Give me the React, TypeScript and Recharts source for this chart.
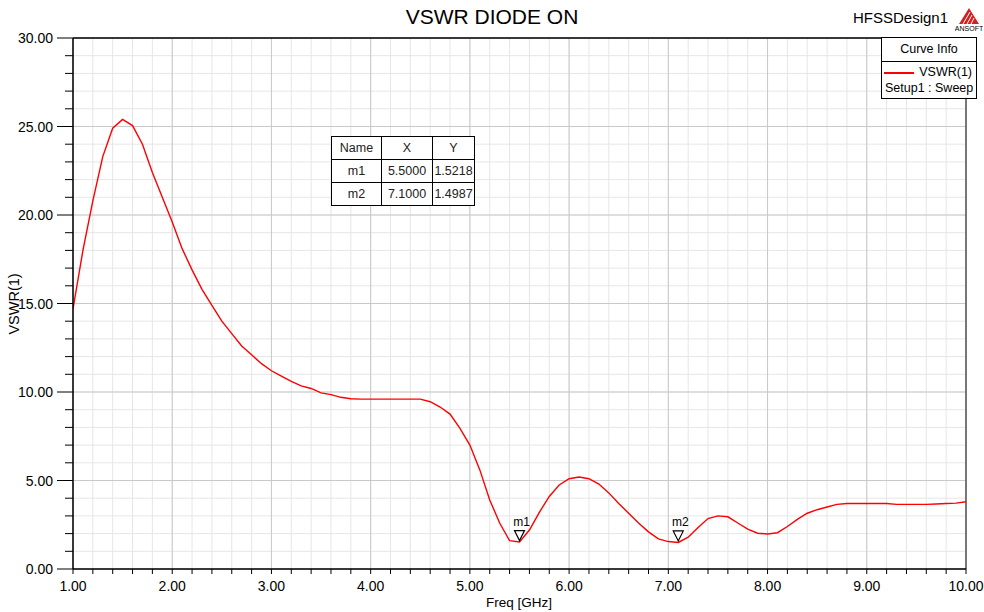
import React from 'react';
import {
  LineChart,
  Line,
  XAxis,
  YAxis,
  CartesianGrid,
  ReferenceDot,
  ReferenceLine,
} from 'recharts';

const freqGHz = [
  1.0, 1.1, 1.2, 1.3, 1.4, 1.5, 1.6, 1.7, 1.8, 1.9,
  2.0, 2.1, 2.2, 2.3, 2.4, 2.5, 2.6, 2.7, 2.8, 2.9,
  3.0, 3.1, 3.2, 3.3, 3.4, 3.5, 3.6, 3.7, 3.8, 3.9,
  4.0, 4.1, 4.2, 4.3, 4.4, 4.5, 4.6, 4.7, 4.8, 4.9,
  5.0, 5.1, 5.2, 5.3, 5.4, 5.5, 5.6, 5.7, 5.8, 5.9,
  6.0, 6.1, 6.2, 6.3, 6.4, 6.5, 6.6, 6.7, 6.8, 6.9,
  7.0, 7.1, 7.2, 7.3, 7.4, 7.5, 7.6, 7.7, 7.8, 7.9,
  8.0, 8.1, 8.2, 8.3, 8.4, 8.5, 8.6, 8.7, 8.8, 8.9,
  9.0, 9.1, 9.2, 9.3, 9.4, 9.5, 9.6, 9.7, 9.8, 9.9,
  10.0,
];

const vswr1 = [
  14.7, 18.0, 20.8, 23.3, 24.9, 25.4, 25.05, 24.0, 22.4, 21.0,
  19.6, 18.1, 16.9, 15.8, 14.9, 14.0, 13.3, 12.6, 12.1, 11.6,
  11.2, 10.9, 10.6, 10.35, 10.2, 9.95, 9.85, 9.7, 9.62, 9.6,
  9.6, 9.6, 9.6, 9.6, 9.6, 9.6, 9.45, 9.15, 8.75, 7.95,
  7.0, 5.6, 3.9, 2.6, 1.6, 1.5218, 2.2, 3.2, 4.1, 4.75,
  5.1, 5.2, 5.1, 4.8, 4.3, 3.7, 3.15, 2.6, 2.1, 1.7,
  1.55, 1.4987, 1.8, 2.35, 2.85, 3.0, 2.95, 2.6, 2.25, 2.02,
  1.98, 2.05, 2.4, 2.8, 3.15, 3.35, 3.5, 3.65, 3.7, 3.7,
  3.7, 3.7, 3.7, 3.65, 3.65, 3.65, 3.65, 3.67, 3.7, 3.72,
  3.8,
];

const xMajorTicks = [1, 2, 3, 4, 5, 6, 7, 8, 9, 10];
const xAllTicks = [
  1, 1.2, 1.4, 1.6, 1.8, 2, 2.2, 2.4, 2.6, 2.8, 3, 3.2, 3.4, 3.6, 3.8,
  4, 4.2, 4.4, 4.6, 4.8, 5, 5.2, 5.4, 5.6, 5.8, 6, 6.2, 6.4, 6.6, 6.8,
  7, 7.2, 7.4, 7.6, 7.8, 8, 8.2, 8.4, 8.6, 8.8, 9, 9.2, 9.4, 9.6, 9.8, 10,
];
const yMajorTicks = [0, 5, 10, 15, 20, 25, 30];
const yAllTicks = [
  0, 1, 2, 3, 4, 5, 6, 7, 8, 9, 10, 11, 12, 13, 14, 15,
  16, 17, 18, 19, 20, 21, 22, 23, 24, 25, 26, 27, 28, 29, 30,
];

const markerNames = ['m1', 'm2'];
const markerX = [5.5, 7.1];
const markerY = [1.5218, 1.4987];

const data = freqGHz.map((f, i) => ({ freq: f, vswr: vswr1[i] }));

const W = 984;
const H = 612;
const PLOT_LEFT = 73;
const PLOT_RIGHT = 966;
const PLOT_TOP = 38;
const PLOT_BOTTOM = 569;

const FONT = '"Liberation Sans", Arial, sans-serif';

const isMajor = (v: number, step: number) => Math.abs(v / step - Math.round(v / step)) < 1e-6;

const XTick = (props: any) => {
  const { x, y, payload } = props;
  const v = payload.value as number;
  const major = isMajor(v, 1);
  return (
    <g>
      <line x1={x} y1={y} x2={x} y2={y + 5} stroke="#000" strokeWidth={1} />
      {major && (
        <text x={x} y={y + 22} textAnchor="middle" fontSize={14} fontFamily={FONT} fill="#000">
          {v.toFixed(2)}
        </text>
      )}
    </g>
  );
};

const YTick = (props: any) => {
  const { x, y, payload } = props;
  const v = payload.value as number;
  const major = isMajor(v, 5);
  const len = major ? 16 : 8;
  return (
    <g>
      <line x1={x - len} y1={y} x2={x} y2={y} stroke="#000" strokeWidth={1} />
      {major && (
        <text x={x - 20} y={y + 5} textAnchor="end" fontSize={14} fontFamily={FONT} fill="#000">
          {v.toFixed(2)}
        </text>
      )}
    </g>
  );
};

const MarkerShape = (name: string) => (props: any) => {
  const { cx, cy } = props;
  return (
    <g>
      <polygon
        points={`${cx - 5},${cy - 11.5} ${cx + 5},${cy - 11.5} ${cx},${cy - 1.5}`}
        fill="#fff"
        stroke="#000"
        strokeWidth={1.2}
      />
      <text x={cx + 2} y={cy - 16} textAnchor="middle" fontSize={12} fontFamily={FONT} fill="#000">
        {name}
      </text>
    </g>
  );
};

const cellStyle: React.CSSProperties = {
  border: '1px solid #000',
  padding: 0,
  height: 22,
  textAlign: 'center',
  fontFamily: FONT,
  fontSize: 12.5,
  color: '#222',
};

export default function App() {
  return (
    <div style={{ position: 'absolute', left: 0, top: 0, width: W, height: H, background: '#fff' }}>
      <LineChart
        width={W}
        height={H}
        data={data}
        margin={{ top: PLOT_TOP, right: W - PLOT_RIGHT, bottom: 0, left: 0 }}
      >
        <CartesianGrid
          stroke="#e6e6e6"
          strokeWidth={1}
          horizontalValues={yAllTicks}
          verticalValues={xAllTicks}
        />
        <CartesianGrid
          stroke="#c9c9c9"
          strokeWidth={1}
          horizontalValues={yMajorTicks}
          verticalValues={xMajorTicks}
        />
        <XAxis
          dataKey="freq"
          type="number"
          domain={[1, 10]}
          ticks={xAllTicks}
          interval={0}
          height={H - PLOT_BOTTOM}
          tickSize={0}
          tickMargin={0}
          tickLine={false}
          axisLine={{ stroke: '#000', strokeWidth: 1.5 }}
          tick={<XTick />}
          allowDataOverflow
        />
        <YAxis
          type="number"
          domain={[0, 30]}
          ticks={yAllTicks}
          interval={0}
          width={PLOT_LEFT}
          tickSize={0}
          tickMargin={0}
          tickLine={false}
          axisLine={{ stroke: '#000', strokeWidth: 1.5 }}
          tick={<YTick />}
          allowDataOverflow
        />
        <ReferenceLine y={30} stroke="#000" strokeWidth={1.5} />
        <ReferenceLine x={10} stroke="#555" strokeWidth={1.5} />
        <Line
          type="linear"
          dataKey="vswr"
          name="VSWR(1)"
          stroke="#ff0000"
          strokeWidth={1.4}
          dot={false}
          isAnimationActive={false}
        />
        {markerNames.map((n, i) => (
          <ReferenceDot
            key={n}
            x={markerX[i]}
            y={markerY[i]}
            r={5}
            shape={MarkerShape(n)}
            isFront
          />
        ))}
      </LineChart>

      {/* Legend (Curve Info) */}
      <div
        style={{
          position: 'absolute',
          left: 881,
          top: 37,
          width: 96,
          height: 62,
          border: '1px solid #000',
          background: '#fff',
          fontFamily: FONT,
          fontSize: 12.5,
          color: '#000',
          boxSizing: 'border-box',
        }}
      >
        <div
          style={{
            height: 23,
            lineHeight: '22px',
            textAlign: 'center',
            borderBottom: '1px solid #000',
          }}
        >
          Curve Info
        </div>
        <div style={{ position: 'relative', height: 18 }}>
          <div
            style={{
              position: 'absolute',
              left: 2,
              top: 10,
              width: 30,
              height: 2,
              background: '#ff0000',
            }}
          />
          <div style={{ position: 'absolute', right: 4, top: 3, lineHeight: '14px' }}>VSWR(1)</div>
        </div>
        <div style={{ paddingLeft: 3, lineHeight: '16px', whiteSpace: 'nowrap' }}>Setup1 : Sweep</div>
      </div>

      {/* Title */}
      <div
        style={{
          position: 'absolute',
          left: 0,
          top: 5,
          width: W,
          textAlign: 'center',
          fontFamily: FONT,
          fontSize: 21,
          lineHeight: '24px',
          color: '#000',
        }}
      >
        VSWR DIODE ON
      </div>
      <div
        style={{
          position: 'absolute',
          left: 853,
          top: 8,
          fontFamily: FONT,
          fontSize: 15,
          lineHeight: '20px',
          color: '#000',
        }}
      >
        HFSSDesign1
      </div>
      {/* Ansoft logo */}
      <svg style={{ position: 'absolute', left: 955, top: 6 }} width={28} height={26}>
        <polygon points="14,2 4,18 24,18" fill="#d42020" />
        <line x1="8" y1="18" x2="15" y2="6" stroke="#fff" strokeWidth={1} />
        <line x1="12" y1="18" x2="17" y2="9" stroke="#fff" strokeWidth={1} />
        <line x1="16" y1="18" x2="19" y2="12" stroke="#fff" strokeWidth={1} />
        <text x="14" y="25" textAnchor="middle" fontSize={7} fontFamily={FONT} fill="#000">
          ANSOFT
        </text>
      </svg>
      {/* Axis labels */}
      <div
        style={{
          position: 'absolute',
          left: 0,
          top: 595,
          width: W,
          paddingLeft: 54,
          boxSizing: 'border-box',
          textAlign: 'center',
          fontFamily: FONT,
          fontSize: 13.5,
          lineHeight: '16px',
          color: '#000',
        }}
      >
        Freq [GHz]
      </div>
      <div
        style={{
          position: 'absolute',
          left: 14,
          top: 304,
          transform: 'translate(-50%, -50%) rotate(-90deg)',
          fontFamily: FONT,
          fontSize: 14.5,
          lineHeight: '16px',
          whiteSpace: 'nowrap',
          color: '#000',
        }}
      >
        VSWR(1)
      </div>
      {/* Marker table */}
      <table
        style={{
          position: 'absolute',
          left: 331,
          top: 136,
          borderCollapse: 'collapse',
          background: '#fff',
          border: '1.5px solid #000',
        }}
      >
        <tbody>
          <tr>
            <td style={{ ...cellStyle, width: 49 }}>Name</td>
            <td style={{ ...cellStyle, width: 50 }}>X</td>
            <td style={{ ...cellStyle, width: 41 }}>Y</td>
          </tr>
          {markerNames.map((n, i) => (
            <tr key={n}>
              <td style={cellStyle}>{n}</td>
              <td style={cellStyle}>{markerX[i].toFixed(4)}</td>
              <td style={cellStyle}>{markerY[i].toFixed(4)}</td>
            </tr>
          ))}
        </tbody>
      </table>
    </div>
  );
}
